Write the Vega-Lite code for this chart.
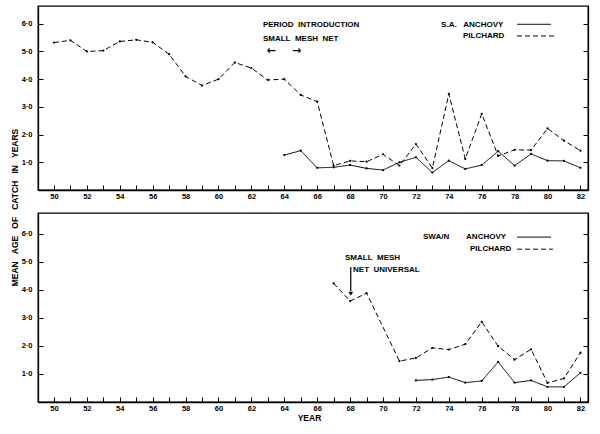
{
  "$schema": "https://vega.github.io/schema/vega-lite/v6.json",
  "autosize": "pad",
  "padding": {"left": 9, "top": 5, "right": 12, "bottom": 10},
  "background": "white",
  "spacing": 23,
  "bounds": "flush",
  "datasets": {
    "top": [
      {"year": 50, "value": 5.32, "species": "PILCHARD"},
      {"year": 51, "value": 5.4, "species": "PILCHARD"},
      {"year": 52, "value": 5.0, "species": "PILCHARD"},
      {"year": 53, "value": 5.03, "species": "PILCHARD"},
      {"year": 54, "value": 5.36, "species": "PILCHARD"},
      {"year": 55, "value": 5.42, "species": "PILCHARD"},
      {"year": 56, "value": 5.33, "species": "PILCHARD"},
      {"year": 57, "value": 4.9, "species": "PILCHARD"},
      {"year": 58, "value": 4.1, "species": "PILCHARD"},
      {"year": 59, "value": 3.77, "species": "PILCHARD"},
      {"year": 60, "value": 4.0, "species": "PILCHARD"},
      {"year": 61, "value": 4.6, "species": "PILCHARD"},
      {"year": 62, "value": 4.4, "species": "PILCHARD"},
      {"year": 63, "value": 3.97, "species": "PILCHARD"},
      {"year": 64, "value": 4.0, "species": "PILCHARD"},
      {"year": 65, "value": 3.43, "species": "PILCHARD"},
      {"year": 66, "value": 3.19, "species": "PILCHARD"},
      {"year": 67, "value": 0.88, "species": "PILCHARD"},
      {"year": 68, "value": 1.05, "species": "PILCHARD"},
      {"year": 69, "value": 1.02, "species": "PILCHARD"},
      {"year": 70, "value": 1.29, "species": "PILCHARD"},
      {"year": 71, "value": 0.88, "species": "PILCHARD"},
      {"year": 72, "value": 1.66, "species": "PILCHARD"},
      {"year": 73, "value": 0.79, "species": "PILCHARD"},
      {"year": 74, "value": 3.47, "species": "PILCHARD"},
      {"year": 75, "value": 1.12, "species": "PILCHARD"},
      {"year": 76, "value": 2.75, "species": "PILCHARD"},
      {"year": 77, "value": 1.23, "species": "PILCHARD"},
      {"year": 78, "value": 1.45, "species": "PILCHARD"},
      {"year": 79, "value": 1.44, "species": "PILCHARD"},
      {"year": 80, "value": 2.22, "species": "PILCHARD"},
      {"year": 81, "value": 1.78, "species": "PILCHARD"},
      {"year": 82, "value": 1.42, "species": "PILCHARD"},
      {"year": 64, "value": 1.26, "species": "ANCHOVY"},
      {"year": 65, "value": 1.42, "species": "ANCHOVY"},
      {"year": 66, "value": 0.8, "species": "ANCHOVY"},
      {"year": 67, "value": 0.82, "species": "ANCHOVY"},
      {"year": 68, "value": 0.9, "species": "ANCHOVY"},
      {"year": 69, "value": 0.78, "species": "ANCHOVY"},
      {"year": 70, "value": 0.72, "species": "ANCHOVY"},
      {"year": 71, "value": 1.0, "species": "ANCHOVY"},
      {"year": 72, "value": 1.18, "species": "ANCHOVY"},
      {"year": 73, "value": 0.63, "species": "ANCHOVY"},
      {"year": 74, "value": 1.06, "species": "ANCHOVY"},
      {"year": 75, "value": 0.76, "species": "ANCHOVY"},
      {"year": 76, "value": 0.9, "species": "ANCHOVY"},
      {"year": 77, "value": 1.4, "species": "ANCHOVY"},
      {"year": 78, "value": 0.88, "species": "ANCHOVY"},
      {"year": 79, "value": 1.3, "species": "ANCHOVY"},
      {"year": 80, "value": 1.06, "species": "ANCHOVY"},
      {"year": 81, "value": 1.05, "species": "ANCHOVY"},
      {"year": 82, "value": 0.8, "species": "ANCHOVY"}
    ],
    "bottom": [
      {"year": 67, "value": 4.23, "species": "PILCHARD"},
      {"year": 68, "value": 3.6, "species": "PILCHARD"},
      {"year": 69, "value": 3.88, "species": "PILCHARD"},
      {"year": 71, "value": 1.46, "species": "PILCHARD"},
      {"year": 72, "value": 1.57, "species": "PILCHARD"},
      {"year": 73, "value": 1.93, "species": "PILCHARD"},
      {"year": 74, "value": 1.87, "species": "PILCHARD"},
      {"year": 75, "value": 2.06, "species": "PILCHARD"},
      {"year": 76, "value": 2.86, "species": "PILCHARD"},
      {"year": 77, "value": 1.99, "species": "PILCHARD"},
      {"year": 78, "value": 1.51, "species": "PILCHARD"},
      {"year": 79, "value": 1.88, "species": "PILCHARD"},
      {"year": 80, "value": 0.68, "species": "PILCHARD"},
      {"year": 81, "value": 0.84, "species": "PILCHARD"},
      {"year": 82, "value": 1.76, "species": "PILCHARD"},
      {"year": 72, "value": 0.77, "species": "ANCHOVY"},
      {"year": 73, "value": 0.8, "species": "ANCHOVY"},
      {"year": 74, "value": 0.89, "species": "ANCHOVY"},
      {"year": 75, "value": 0.69, "species": "ANCHOVY"},
      {"year": 76, "value": 0.75, "species": "ANCHOVY"},
      {"year": 77, "value": 1.43, "species": "ANCHOVY"},
      {"year": 78, "value": 0.69, "species": "ANCHOVY"},
      {"year": 79, "value": 0.77, "species": "ANCHOVY"},
      {"year": 80, "value": 0.54, "species": "ANCHOVY"},
      {"year": 81, "value": 0.54, "species": "ANCHOVY"},
      {"year": 82, "value": 1.04, "species": "ANCHOVY"}
    ],
    "topKey": [
      {"year": 78.15, "year2": 80.21, "value": 5.98, "species": "ANCHOVY"},
      {"year": 78.15, "year2": 80.46, "value": 5.56, "species": "PILCHARD"}
    ],
    "bottomKey": [
      {"year": 78.15, "year2": 80.21, "value": 5.88, "species": "ANCHOVY"},
      {"year": 78.15, "year2": 80.33, "value": 5.45, "species": "PILCHARD"}
    ],
    "topNotes": [
      {"year": 62.7, "value": 5.96, "label": "PERIOD\u00a0\u00a0INTRODUCTION"},
      {"year": 62.7, "value": 5.45, "label": "SMALL\u00a0\u00a0MESH\u00a0\u00a0NET"},
      {"year": 73.53, "value": 5.96, "label": "S.A.\u00a0\u00a0\u00a0ANCHOVY"},
      {"year": 74.86, "value": 5.56, "label": "PILCHARD"}
    ],
    "topArrows": [
      {"year": 63.2, "value": 5.03, "label": "←"},
      {"year": 64.75, "value": 5.03, "label": "→"}
    ],
    "bottomNotes": [
      {"year": 72.43, "value": 5.88, "label": "SWA/N"},
      {"year": 75.05, "value": 5.88, "label": "ANCHOVY"},
      {"year": 75.29, "value": 5.45, "label": "PILCHARD"},
      {"year": 67.69, "value": 5.13, "label": "SMALL\u00a0\u00a0MESH"},
      {"year": 68.18, "value": 4.7, "label": "NET\u00a0\u00a0UNIVERSAL"}
    ],
    "arrow": [
      {"year": 68.04, "value": 4.81, "value2": 3.95}
    ],
    "arrowHead": [
      {"year": 68.04, "value": 3.86}
    ]
  },
  "vconcat": [
    {
      "width": 550,
      "height": 184,
      "resolve": {"axis": {"y": "independent"}},
      "encoding": {
        "x": {"field": "year", "type": "quantitative", "scale": {"domain": [49.03, 82.46], "nice": false, "zero": false},
          "axis": {"orient": "bottom", "values": [50,51,52,53,54,55,56,57,58,59,60,61,62,63,64,65,66,67,68,69,70,71,72,73,74,75,76,77,78,79,80,81,82],
            "labelExpr": "datum.value % 2 == 0 ? format(datum.value, 'd') : ''", "tickSize": -5, "labelPadding": 7, "labelOverlap": false, "labelFlush": false, "title": null}}
      },
      "layer": [
        {
          "data": {"name": "top"},
          "mark": {"type": "line", "color": "black", "strokeWidth": 1},
          "encoding": {
            "y": {"field": "value", "type": "quantitative", "scale": {"domain": [0, 6.64], "nice": false},
              "axis": {"orient": "left", "values": [1,2,3,4,5,6], "labelExpr": "replace(format(datum.value, '.1f'), '.', '·')", "tickSize": -5, "labelPadding": 11,
                "title": "MEAN\u00a0\u00a0\u00a0AGE\u00a0\u00a0\u00a0OF\u00a0\u00a0\u00a0CATCH\u00a0\u00a0\u00a0IN\u00a0\u00a0\u00a0YEARS", "titleAngle": -90, "titleX": -24, "titleY": 201, "titleAlign": "center", "titleBaseline": "middle"}},
            "strokeDash": {"field": "species", "type": "nominal", "scale": {"domain": ["ANCHOVY", "PILCHARD"], "range": [[1, 0], [5, 3]]}, "legend": null},
            "detail": {"field": "species"}
          }
        },
        {
          "data": {"name": "top"},
          "mark": {"type": "point", "filled": true, "color": "black", "size": 5, "opacity": 1},
          "encoding": {
            "y": {"field": "value", "type": "quantitative",
              "axis": {"orient": "right", "values": [1,2,3,4,5,6], "labels": false, "tickSize": -5, "title": null}}
          }
        },
        {
          "data": {"name": "topKey"},
          "mark": {"type": "rule", "color": "black", "strokeWidth": 1},
          "encoding": {
            "x2": {"field": "year2"},
            "y": {"field": "value", "type": "quantitative", "axis": null},
            "strokeDash": {"field": "species", "type": "nominal", "legend": null}
          }
        },
        {
          "data": {"name": "topNotes"},
          "mark": {"type": "text", "align": "left", "baseline": "middle", "font": "Liberation Sans", "fontWeight": "bold", "fontSize": 8, "color": "black"},
          "encoding": {
            "y": {"field": "value", "type": "quantitative", "axis": null},
            "text": {"field": "label"}
          }
        },
        {
          "data": {"name": "topArrows"},
          "mark": {"type": "text", "align": "center", "baseline": "middle", "font": "DejaVu Sans", "fontWeight": "bold", "fontSize": 11, "color": "black"},
          "encoding": {
            "y": {"field": "value", "type": "quantitative", "axis": null},
            "text": {"field": "label"}
          }
        }
      ]
    },
    {
      "width": 550,
      "height": 189,
      "resolve": {"axis": {"y": "independent"}},
      "encoding": {
        "x": {"field": "year", "type": "quantitative", "scale": {"domain": [49.03, 82.46], "nice": false, "zero": false},
          "axis": {"orient": "bottom", "values": [50,51,52,53,54,55,56,57,58,59,60,61,62,63,64,65,66,67,68,69,70,71,72,73,74,75,76,77,78,79,80,81,82],
            "labelExpr": "datum.value % 2 == 0 ? format(datum.value, 'd') : ''", "tickSize": -5, "labelPadding": 7, "labelOverlap": false, "labelFlush": false,
            "title": "YEAR", "titleX": 271, "titleY": 15, "titleBaseline": "middle"}}
      },
      "layer": [
        {
          "data": {"name": "bottom"},
          "mark": {"type": "line", "color": "black", "strokeWidth": 1},
          "encoding": {
            "y": {"field": "value", "type": "quantitative", "scale": {"domain": [0, 6.74], "nice": false},
              "axis": {"orient": "left", "values": [1,2,3,4,5,6], "labelExpr": "replace(format(datum.value, '.1f'), '.', '·')", "tickSize": -5, "labelPadding": 11, "title": null}},
            "strokeDash": {"field": "species", "type": "nominal", "scale": {"domain": ["ANCHOVY", "PILCHARD"], "range": [[1, 0], [5, 3]]}, "legend": null},
            "detail": {"field": "species"}
          }
        },
        {
          "data": {"name": "bottom"},
          "mark": {"type": "point", "filled": true, "color": "black", "size": 5, "opacity": 1},
          "encoding": {
            "y": {"field": "value", "type": "quantitative",
              "axis": {"orient": "right", "values": [1,2,3,4,5,6], "labels": false, "tickSize": -5, "title": null}}
          }
        },
        {
          "data": {"name": "bottomKey"},
          "mark": {"type": "rule", "color": "black", "strokeWidth": 1},
          "encoding": {
            "x2": {"field": "year2"},
            "y": {"field": "value", "type": "quantitative", "axis": null},
            "strokeDash": {"field": "species", "type": "nominal", "legend": null}
          }
        },
        {
          "data": {"name": "bottomNotes"},
          "mark": {"type": "text", "align": "left", "baseline": "middle", "font": "Liberation Sans", "fontWeight": "bold", "fontSize": 8, "color": "black"},
          "encoding": {
            "y": {"field": "value", "type": "quantitative", "axis": null},
            "text": {"field": "label"}
          }
        },
        {
          "data": {"name": "arrow"},
          "mark": {"type": "rule", "color": "black", "strokeWidth": 1.2},
          "encoding": {
            "y": {"field": "value", "type": "quantitative", "axis": null},
            "y2": {"field": "value2"}
          }
        },
        {
          "data": {"name": "arrowHead"},
          "mark": {"type": "point", "shape": "triangle-down", "filled": true, "color": "black", "size": 22, "opacity": 1},
          "encoding": {
            "y": {"field": "value", "type": "quantitative", "axis": null}
          }
        }
      ]
    }
  ],
  "config": {
    "view": {"stroke": "black", "strokeWidth": 1.3},
    "axis": {"domainColor": "black", "domainWidth": 1.3, "tickColor": "black", "tickWidth": 1, "grid": false,
      "labelFont": "Liberation Sans", "labelFontWeight": "bold", "labelFontSize": 7.5, "labelColor": "black",
      "titleFont": "Liberation Sans", "titleFontWeight": "bold", "titleFontSize": 8.5, "titleColor": "black"}
  }
}
